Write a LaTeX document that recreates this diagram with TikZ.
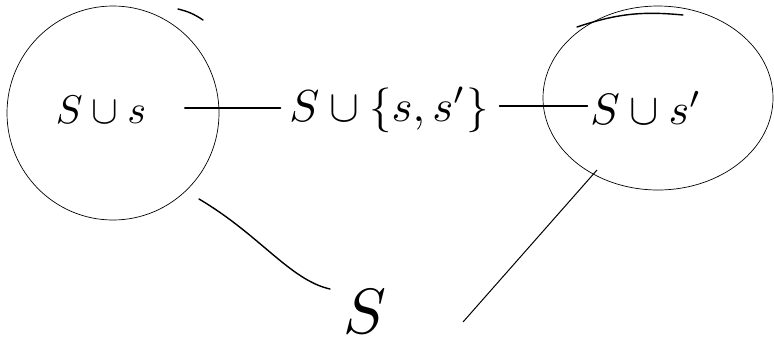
\documentclass[tikz,border=0pt]{standalone}
\begin{document}
\begin{tikzpicture}[x=1pt,y=-1pt,
  lbl/.style={inner sep=0pt, scale=4},
  ring/.style={draw, line width=0.7pt},
  stroke/.style={line width=1.4pt, line cap=round}]
\useasboundingbox (0,0) rectangle (774,360);
% rings
\draw[ring] (113,113) ellipse [x radius=106, y radius=107];
\draw[ring] (658,98) ellipse [x radius=115, y radius=92];
\draw[stroke] (178,9) to[bend left=10] (203,20);
\draw[stroke] (577,27) to[bend left=12] (683,15);
% labels
\node[lbl] (a) at (101,110) {$S\cup s$};
\node[lbl, scale=1.12] (b) at (389,110) {$S\cup\{s,s'\}$};
\node[lbl, scale=1.1] (c) at (646,108) {$S\cup s'$};
\node[lbl, scale=1.6] (d) at (365,312) {$S$};
% connectors
\coordinate (l1) at (199,199);
\coordinate (l2) at (330,289);
\coordinate (r1) at (597,170);
\coordinate (r2) at (463,322);
\draw[stroke] ([xshift=38pt,yshift=2pt]a.east) -- ([xshift=-8pt,yshift=2pt]b.west);
\draw[stroke] ([xshift=10pt,yshift=4pt]b.east) -- ([xshift=-2pt,yshift=2pt]c.west);
\draw[stroke] (l1) .. controls (260,235) and (290,280) .. (l2);
\draw[line width=1pt] (r1) -- (r2);
\end{tikzpicture}
\end{document}
